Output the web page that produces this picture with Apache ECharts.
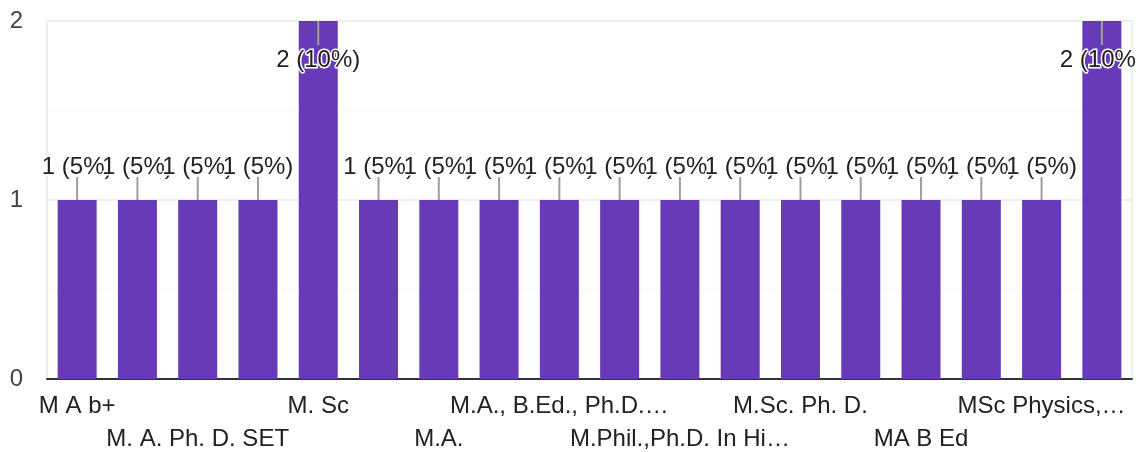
<!DOCTYPE html>
<html>
<head>
<meta charset="utf-8">
<script src="https://cdn.jsdelivr.net/npm/echarts@6/dist/echarts.min.js"></script>
<style>
  html, body { margin: 0; padding: 0; background: #fff; }
  #chart { width: 1145px; height: 452px; }
</style>
</head>
<body>
<div id="chart"></div>
<script>
// categories (every other one is shown on the axis, in two rows)
var categories = [
  'M A b+', 'M. A. B. Ed.', 'M. A. Ph. D. SET', 'M. Phil', 'M. Sc', 'M. Sc. B. Ed.',
  'M.A.', 'M.A. B.Ed', 'M.A., B.Ed., Ph.D.…', 'M.Com', 'M.Phil.,Ph.D. In Hi…', 'M.Sc',
  'M.Sc. Ph. D.', 'M.Sc., B.Ed.', 'MA B Ed', 'MA, Ph.D.', 'MSc Physics,…', 'Ph.D.'
];
var counts = [1, 1, 1, 1, 2, 1, 1, 1, 1, 1, 1, 1, 1, 1, 1, 1, 1, 2];
var yTicks = [0, 1, 2];

var total = counts.reduce(function (a, b) { return a + b; }, 0);
var yMax = yTicks[yTicks.length - 1];
var FONT = '"Liberation Sans", Arial, sans-serif';

var barData = counts.map(function (v, i) {
  var pct = Math.round(v / total * 100);
  var inside = v >= yMax;
  var item = {
    value: v,
    label: {
      position: inside ? 'insideTop' : 'top',
      distance: inside ? 27 : 21,
      formatter: v + ' (' + pct + '%)'
    }
  };
  // last label is cut at the plot edge in the original
  if (i === counts.length - 1) {
    item.label.width = 78;
    item.label.overflow = 'truncate';
    item.label.ellipsis = '';
    item.label.offset = [-4, 0];
  }
  return item;
});

var leaderData = counts.map(function (v, i) { return [i, v]; });

var chart = echarts.init(document.getElementById('chart'));
chart.setOption({
  animation: false,
  grid: {
    left: 47, right: 13, top: 21, bottom: 73,
    outerBoundsMode: 'none',
    show: true, borderColor: '#eeeeee', borderWidth: 2
  },
  xAxis: {
    type: 'category',
    data: categories,
    axisLine: { lineStyle: { color: '#333', width: 2 } },
    axisTick: { show: false },
    axisLabel: {
      interval: 0,
      margin: 11,
      fontFamily: FONT,
      fontSize: 24,
      lineHeight: 33,
      color: '#222',
      formatter: function (val, idx) {
        if (idx % 4 === 0) return val;
        if (idx % 4 === 2) return '\n' + val;
        return '';
      }
    }
  },
  yAxis: {
    type: 'value',
    min: yTicks[0], max: yMax, interval: 1,
    axisLine: { show: false },
    axisTick: { show: false },
    axisLabel: { margin: 24, fontFamily: FONT, fontSize: 24, color: '#444' },
    splitLine: { lineStyle: { color: '#eeeeee', width: 2 } },
    minorTick: { show: false, splitNumber: 2 },
    minorSplitLine: { show: true, lineStyle: { color: '#f6f6f6', width: 1 } }
  },
  series: [
    {
      type: 'bar',
      data: barData,
      barWidth: 39,
      itemStyle: { color: '#673ab7' },
      label: {
        show: true,
        fontFamily: FONT,
        fontSize: 24,
        color: '#222',
        textBorderColor: '#fff',
        textBorderWidth: 3
      }
    },
    {
      type: 'custom',
      data: leaderData,
      encode: { x: 0, y: 1 },
      z: 3,
      silent: true,
      renderItem: function (params, api) {
        var v = api.value(1);
        var p = api.coord([api.value(0), v]);
        var y2 = v >= yMax ? p[1] + 24 : p[1] - 23;
        return {
          type: 'line',
          shape: { x1: p[0], y1: p[1], x2: p[0], y2: y2 },
          style: { stroke: '#9e9e9e', lineWidth: 2 }
        };
      }
    }
  ]
});
</script>
</body>
</html>
